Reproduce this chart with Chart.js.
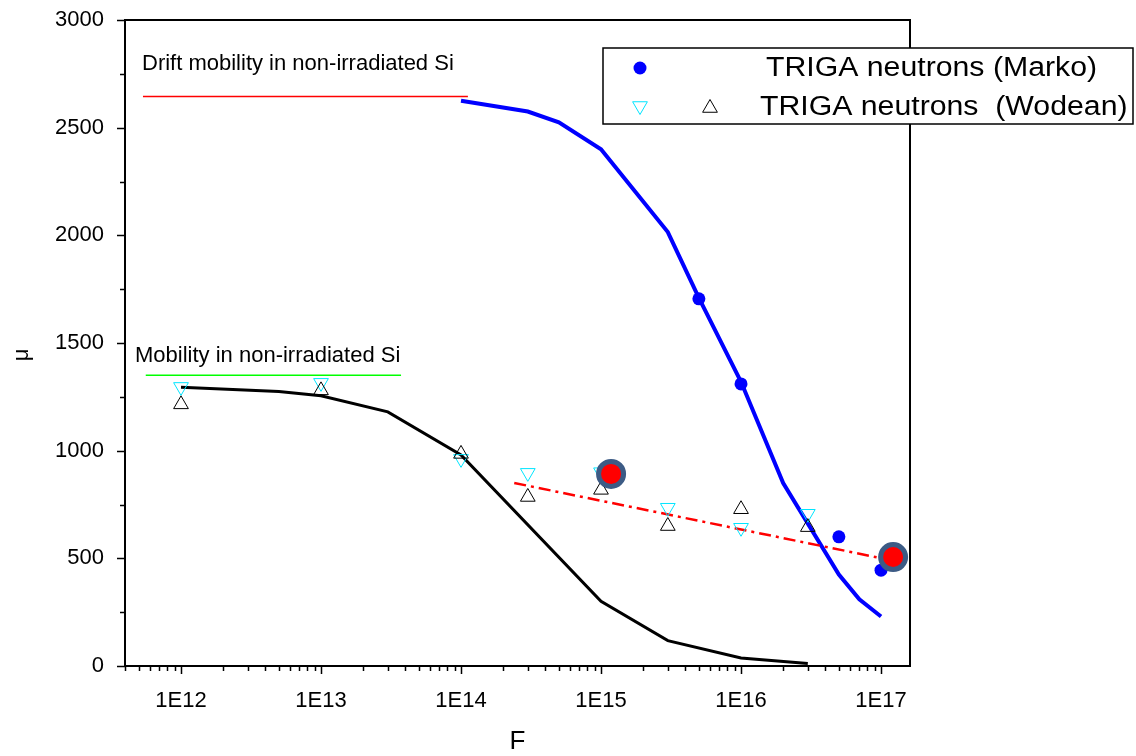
<!DOCTYPE html>
<html lang="en">
<head>
<meta charset="UTF-8">
<title>Mobility vs fluence</title>
<script src="https://cdn.jsdelivr.net/npm/chart.js"></script>
<style>
  html, body { margin: 0; padding: 0; background: #fff; }
  #wrap { width: 1136px; height: 756px; }
</style>
</head>
<body>
<div id="wrap"><canvas id="chart" width="1136" height="756"></canvas></div>
<script>
// values
const driftX = [5.35e11, 1.12e14];
const driftY = [2645, 2645];
const mobX = [5.6e11, 3.73e13];
const mobY = [1350, 1350];

const blueCurveX = [1e14, 3e14, 5e14, 1e15, 3e15, 5e15, 1e16, 2e16, 5e16, 7e16, 1e17];
const blueCurveY = [2625, 2575, 2525, 2400, 2015, 1710, 1320, 850, 425, 310, 230];

const blackCurveX = [1e12, 5e12, 1e13, 3e13, 1e14, 1e15, 3e15, 1e16, 3e16];
const blackCurveY = [1295, 1275, 1255, 1180, 980, 300, 118, 37, 12];

const markoX = [5e15, 1e16, 5e16, 1e17];
const markoY = [1705, 1310, 600, 445];

const wodeanX = [1e12, 1e13, 1e14, 3e14, 1e15, 3e15, 1e16, 3e16];
const wodeanUpY = [1215, 1280, 985, 785, 818, 650, 728, 645];
const wodeanDownY = [1296, 1315, 962, 897, 900, 735, 642, 707];

const fitX = [2.4e14, 9.3e16];
const fitY = [850, 505];

const highlightX = [1.18e15, 1.22e17];
const highlightY = [892, 506];

const xDecades = [12, 13, 14, 15, 16, 17];
const yLabels = [0, 500, 1000, 1500, 2000, 2500, 3000];

const X_MIN = Math.pow(10, 11.6);
const X_MAX = Math.pow(10, 17.207);
const FONT = "'Liberation Sans', Arial, sans-serif";

function pts(xs, ys) {
    return xs.map((x, i) => ({ x: x, y: ys[i] }));
}

function isDecade(v) {
    const l = Math.log10(v);
    return Math.abs(l - Math.round(l)) < 1e-9;
}

// frame, tick marks, legend, annotations
const decorations = {
    id: 'decorations',
    beforeDatasetsDraw(chart) {
        const { ctx, chartArea: a } = chart;
        ctx.save();
        ctx.strokeStyle = '#000';
        ctx.lineWidth = 2;
        ctx.strokeRect(a.left, a.top, a.right - a.left, a.bottom - a.top);
        ctx.restore();
    },
    afterDraw(chart) {
        const { ctx, chartArea: a, scales: { x, y } } = chart;
        ctx.save();
        ctx.strokeStyle = '#000';
        ctx.lineWidth = 1.5;
        ctx.beginPath();
        x.ticks.forEach(t => {
            const px = Math.round(x.getPixelForValue(t.value)) + 0.5;
            const len = isDecade(t.value) ? 8 : 5;
            ctx.moveTo(px, a.bottom);
            ctx.lineTo(px, a.bottom + len);
        });
        y.ticks.forEach(t => {
            const py = Math.round(y.getPixelForValue(t.value)) + 0.5;
            const len = t.value % 500 === 0 ? 8 : 5;
            ctx.moveTo(a.left, py);
            ctx.lineTo(a.left - len, py);
        });
        ctx.stroke();

        // annotations above the reference lines
        ctx.fillStyle = '#000';
        ctx.font = '22px ' + FONT;
        ctx.textBaseline = 'alphabetic';
        ctx.textAlign = 'left';
        ctx.fillText('Drift mobility in non-irradiated Si', 142, 70);
        ctx.fillText('Mobility in non-irradiated Si', 135, 362);

        // axis titles
        ctx.font = '26px ' + FONT;
        ctx.textAlign = 'center';
        ctx.textBaseline = 'middle';
        ctx.fillText('F', (a.left + a.right) / 2, 742);
        ctx.save();
        ctx.translate(22, 355);
        ctx.rotate(-Math.PI / 2);
        ctx.font = '22px ' + FONT;
        ctx.fillText('μ', 0, 0);
        ctx.restore();

        // legend box
        ctx.fillStyle = '#fff';
        ctx.fillRect(603, 48, 530, 76);
        ctx.strokeStyle = '#000';
        ctx.lineWidth = 1.5;
        ctx.strokeRect(603, 48, 530, 76);

        ctx.fillStyle = '#0000ff';
        ctx.beginPath();
        ctx.arc(640, 68, 6.5, 0, Math.PI * 2);
        ctx.fill();

        const tri = (cx, cy, r, down, color) => {
            const s = down ? -1 : 1;
            ctx.beginPath();
            ctx.moveTo(cx, cy - s * r);
            ctx.lineTo(cx + r * 0.866, cy + s * r * 0.5);
            ctx.lineTo(cx - r * 0.866, cy + s * r * 0.5);
            ctx.closePath();
            ctx.strokeStyle = color;
            ctx.lineWidth = 1;
            ctx.stroke();
        };
        tri(640, 106, 8.5, true, '#00e5ff');
        tri(710, 108, 8.5, false, '#000');

        ctx.fillStyle = '#000';
        ctx.font = '27px ' + FONT;
        ctx.textAlign = 'left';
        ctx.textBaseline = 'middle';
        const stretched = (text, tx, ty) => {
            ctx.save();
            ctx.translate(tx, ty);
            ctx.scale(1.12, 1);
            ctx.fillText(text, 0, 0);
            ctx.restore();
        };
        stretched('TRIGA neutrons (Marko)', 766, 69);
        stretched('TRIGA neutrons  (Wodean)', 760, 108);
        ctx.restore();
    }
};

new Chart(document.getElementById('chart'), {
    type: 'scatter',
    data: {
        datasets: [
            {
                data: pts(highlightX, highlightY),
                pointStyle: 'circle',
                pointRadius: 12.5,
                backgroundColor: '#ff0000',
                borderColor: '#3c5b85',
                borderWidth: 5
            },
            {
                data: pts(markoX, markoY),
                pointStyle: 'circle',
                pointRadius: 6.5,
                backgroundColor: '#0000ff',
                borderWidth: 0
            },
            {
                data: pts(wodeanX, wodeanUpY),
                pointStyle: 'triangle',
                pointRadius: 8.5,
                backgroundColor: 'rgba(0,0,0,0)',
                borderColor: '#000',
                borderWidth: 1
            },
            {
                data: pts(wodeanX, wodeanDownY),
                pointStyle: 'triangle',
                rotation: 180,
                pointRadius: 8.5,
                backgroundColor: 'rgba(0,0,0,0)',
                borderColor: '#00e5ff',
                borderWidth: 1
            },
            {
                data: pts(fitX, fitY),
                showLine: true,
                pointRadius: 0,
                borderColor: '#ff0000',
                borderWidth: 2.5,
                borderDash: [12, 5, 3, 5]
            },
            {
                data: pts(blueCurveX, blueCurveY),
                showLine: true,
                pointRadius: 0,
                borderColor: '#0000ff',
                borderWidth: 4
            },
            {
                data: pts(blackCurveX, blackCurveY),
                showLine: true,
                pointRadius: 0,
                borderColor: '#000',
                borderWidth: 3
            },
            {
                data: pts(driftX, driftY),
                showLine: true,
                pointRadius: 0,
                borderColor: '#ff0000',
                borderWidth: 1.5
            },
            {
                data: pts(mobX, mobY),
                showLine: true,
                pointRadius: 0,
                borderColor: '#00ff00',
                borderWidth: 1.5
            }
        ]
    },
    options: {
        responsive: false,
        animation: false,
        events: [],
        layout: { padding: { top: 20, right: 1136 - 910, left: 0, bottom: 0 } },
        plugins: { legend: { display: false }, tooltip: { enabled: false } },
        scales: {
            x: {
                type: 'logarithmic',
                min: X_MIN,
                max: X_MAX,
                grid: { display: false, drawTicks: false },
                border: { display: false },
                afterFit(scale) {
                    scale.height = 90;
                    scale.paddingLeft = 0;
                    scale.paddingRight = 0;
                },
                afterBuildTicks(scale) {
                    const ticks = [];
                    for (let e = 11; e <= 17; e++) {
                        for (let m = 1; m <= 9; m++) {
                            const v = m * Math.pow(10, e);
                            if (v >= X_MIN && v <= X_MAX) ticks.push({ value: v });
                        }
                    }
                    scale.ticks = ticks;
                },
                ticks: {
                    autoSkip: false,
                    maxRotation: 0,
                    padding: 22,
                    color: '#000',
                    font: { family: FONT, size: 22 },
                    callback(v) {
                        const e = Math.round(Math.log10(v));
                        return isDecade(v) && xDecades.includes(e) ? '1E' + e : '';
                    }
                }
            },
            y: {
                min: 0,
                max: 3000,
                grid: { display: false, drawTicks: false },
                border: { display: false },
                afterFit(scale) {
                    scale.width = 125;
                    scale.paddingTop = 0;
                    scale.paddingBottom = 0;
                },
                ticks: {
                    stepSize: 250,
                    autoSkip: false,
                    padding: 21,
                    color: '#000',
                    font: { family: FONT, size: 22 },
                    callback(v) { return yLabels.includes(v) ? String(v) : ''; }
                }
            }
        }
    },
    plugins: [decorations]
});
</script>
</body>
</html>
